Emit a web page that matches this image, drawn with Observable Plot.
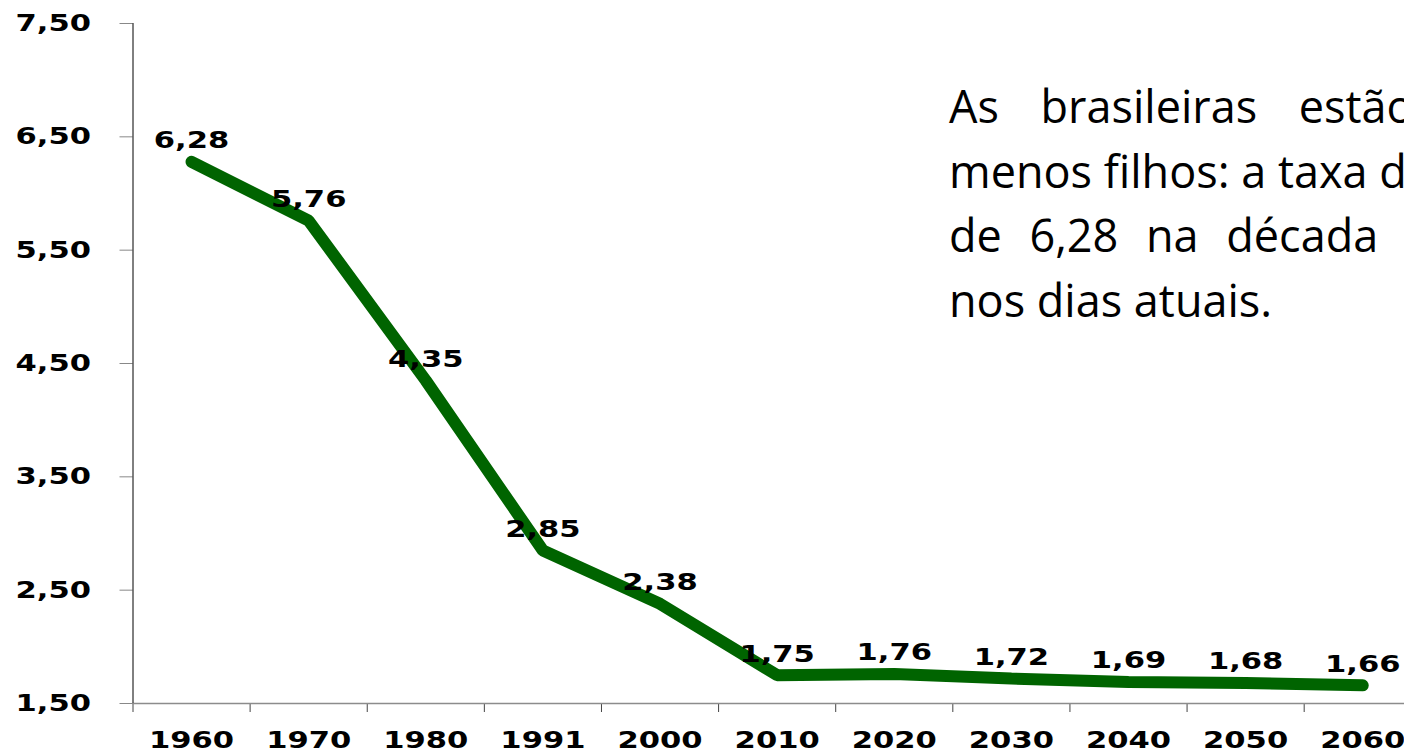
<!DOCTYPE html>
<html>
<head>
<meta charset="utf-8">
<script src="https://cdn.jsdelivr.net/npm/d3@7"></script>
<script src="https://cdn.jsdelivr.net/npm/@observablehq/plot@0.6"></script>
<style>
  html, body { margin: 0; padding: 0; background: #fff; }
  body { width: 1404px; height: 752px; overflow: hidden; position: relative; }
  #chart svg { display: block; max-width: none !important; }
  #note {
    position: absolute; left: 949px; top: 74px;
    font-family: "Open Sans", sans-serif; font-size: 45px; line-height: 64.5px;
    color: #000; white-space: nowrap;
  }
</style>
</head>
<body>
<div id="chart"></div>
<div id="note">
  <div style="word-spacing: 30px">As brasileiras estão</div>
  <div>menos filhos: a taxa de</div>
  <div style="word-spacing: 16px">de 6,28 na década</div>
  <div>nos dias atuais.</div>
</div>
<script>
// Taxa de fecundidade no Brasil, por década (com projeções)
const years = ["1960", "1970", "1980", "1991", "2000", "2010", "2020", "2030", "2040", "2050", "2060"];
const rates = [6.28, 5.76, 4.35, 2.85, 2.38, 1.75, 1.76, 1.72, 1.69, 1.68, 1.66];
const yTicks = [1.5, 2.5, 3.5, 4.5, 5.5, 6.5, 7.5];

const comma = d => d.toFixed(2).replace(".", ",");

// each year sits in the middle of its own slot on the x axis
const data = years.map((year, i) => ({year, slot: i + 0.5, rate: rates[i]}));
const slotEdges = d3.range(years.length + 1);

const chart = Plot.plot({
  width: 1440,
  height: 752,
  marginLeft: 132.5,
  marginRight: 19.2,
  marginTop: 23,
  marginBottom: 49,
  style: {
    fontFamily: "DejaVu Sans",
    fontWeight: "bold",
    fontSize: "23px",
    color: "#000",
    background: "#fff",
    overflow: "visible",
    maxWidth: "none"
  },
  x: {domain: [0, years.length], label: null},
  y: {domain: [1.5, 7.5], label: null},
  marks: [
    Plot.axisY({ticks: yTicks, tickSize: 13, tickPadding: 29, tickFormat: comma, stroke: "#888", fill: "#000", label: null}),
    Plot.axisX({ticks: slotEdges, tickSize: 9, tickFormat: () => "", stroke: "#444", label: null}),
    Plot.axisX({ticks: data.map(d => d.slot), tickSize: 0, tickPadding: 28, tickFormat: d => years[Math.floor(d)], fill: "#000", label: null}),
    Plot.ruleY([1.5], {stroke: "#8c8c8c", strokeWidth: 1.5}),
    Plot.ruleX([0], {stroke: "#000", strokeWidth: 1}),
    Plot.line(data, {x: "slot", y: "rate", stroke: "#006400", strokeWidth: 12, strokeLinecap: "round", strokeLinejoin: "miter"}),
    Plot.text(data, {x: "slot", y: "rate", text: d => comma(d.rate), dy: -21, fill: "#000"})
  ]
});

// widen the bold numerals horizontally around their anchor points
chart.querySelectorAll("text").forEach(t => {
  const tr = t.getAttribute("transform") || "";
  const x = parseFloat(t.getAttribute("x")) || 0;
  t.setAttribute("transform", `${tr} translate(${x},0) scale(1.33,1) translate(${-x},0)`);
});

document.getElementById("chart").appendChild(chart);
</script>
</body>
</html>
